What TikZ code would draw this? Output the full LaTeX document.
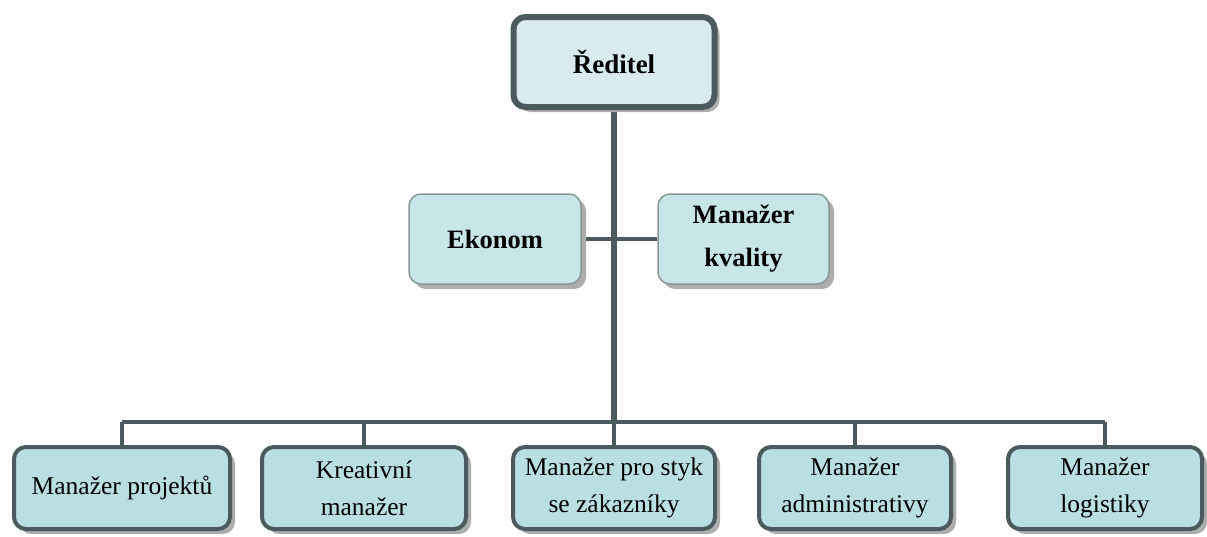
\documentclass[tikz,border=0pt]{standalone}
\usepackage{fontspec}
\setmainfont{Liberation Serif}
\usetikzlibrary{shadows,backgrounds}
\definecolor{bord}{HTML}{4B5B5D}
\definecolor{topfill}{HTML}{D8ECEF}
\definecolor{midfill}{HTML}{C8E5E8}
\definecolor{botfill}{HTML}{BADFE3}
\definecolor{thinbord}{HTML}{8A9698}
\tikzset{
  box/.style={rounded corners=12pt, align=center, inner sep=0pt,
    font=\fontsize{25.5}{37}\selectfont,
    general shadow={fill=black!32, shadow xshift=5pt, shadow yshift=-5pt}},
  topbox/.style={box, draw=bord, line width=6pt, fill=topfill,
    minimum width=201pt, minimum height=90pt, font=\fontsize{27}{37}\selectfont\bfseries},
  midbox/.style={box, draw=thinbord, line width=1.5pt, fill=midfill,
    minimum height=90pt, font=\fontsize{26.5}{43}\selectfont\bfseries},
  botbox/.style={box, draw=bord, line width=4pt, fill=botfill, minimum height=82pt},
  thick conn/.style={draw=bord, line width=5.5pt},
  conn/.style={draw=bord, line width=4pt}
}
\begin{document}
\begin{tikzpicture}[x=1pt,y=-1pt]
\useasboundingbox (0,0) rectangle (1207,536);
\node[topbox] (dir) at (614,62) {Ředitel};
\node[midbox, minimum width=172pt] (eko) at (495,239) {Ekonom};
\node[midbox, minimum width=171pt] (kval) at (743.5,239) {Manažer\\kvality};
\node[botbox, minimum width=216pt] (b1) at (122,488) {Manažer projektů};
\node[botbox, minimum width=204pt] (b2) at (364,488) {Kreativní\\manažer};
\node[botbox, minimum width=202pt] (b3) at (614,488) {Manažer pro styk\\se zákazníky};
\node[botbox, minimum width=192pt] (b4) at (855,488) {Manažer\\administrativy};
\node[botbox, minimum width=194pt] (b5) at (1105,488) {Manažer\\logistiky};
\coordinate (bus) at (614,422);
\coordinate (busL) at (122,422);
\coordinate (busR) at (1105,422);
\begin{scope}[on background layer]
\draw[conn] (eko.east) -- (kval.west);
\draw[thick conn] (dir.south) -- (bus);
\draw[conn] (busL) -- (busR);
\draw[conn] (busL) -- (b1.north);
\draw[conn] (b2.north |- bus) -- (b2.north);
\draw[conn] (bus) -- (b3.north);
\draw[conn] (b4.north |- bus) -- (b4.north);
\draw[conn] (busR) -- (b5.north);
\end{scope}
\end{tikzpicture}
\end{document}
